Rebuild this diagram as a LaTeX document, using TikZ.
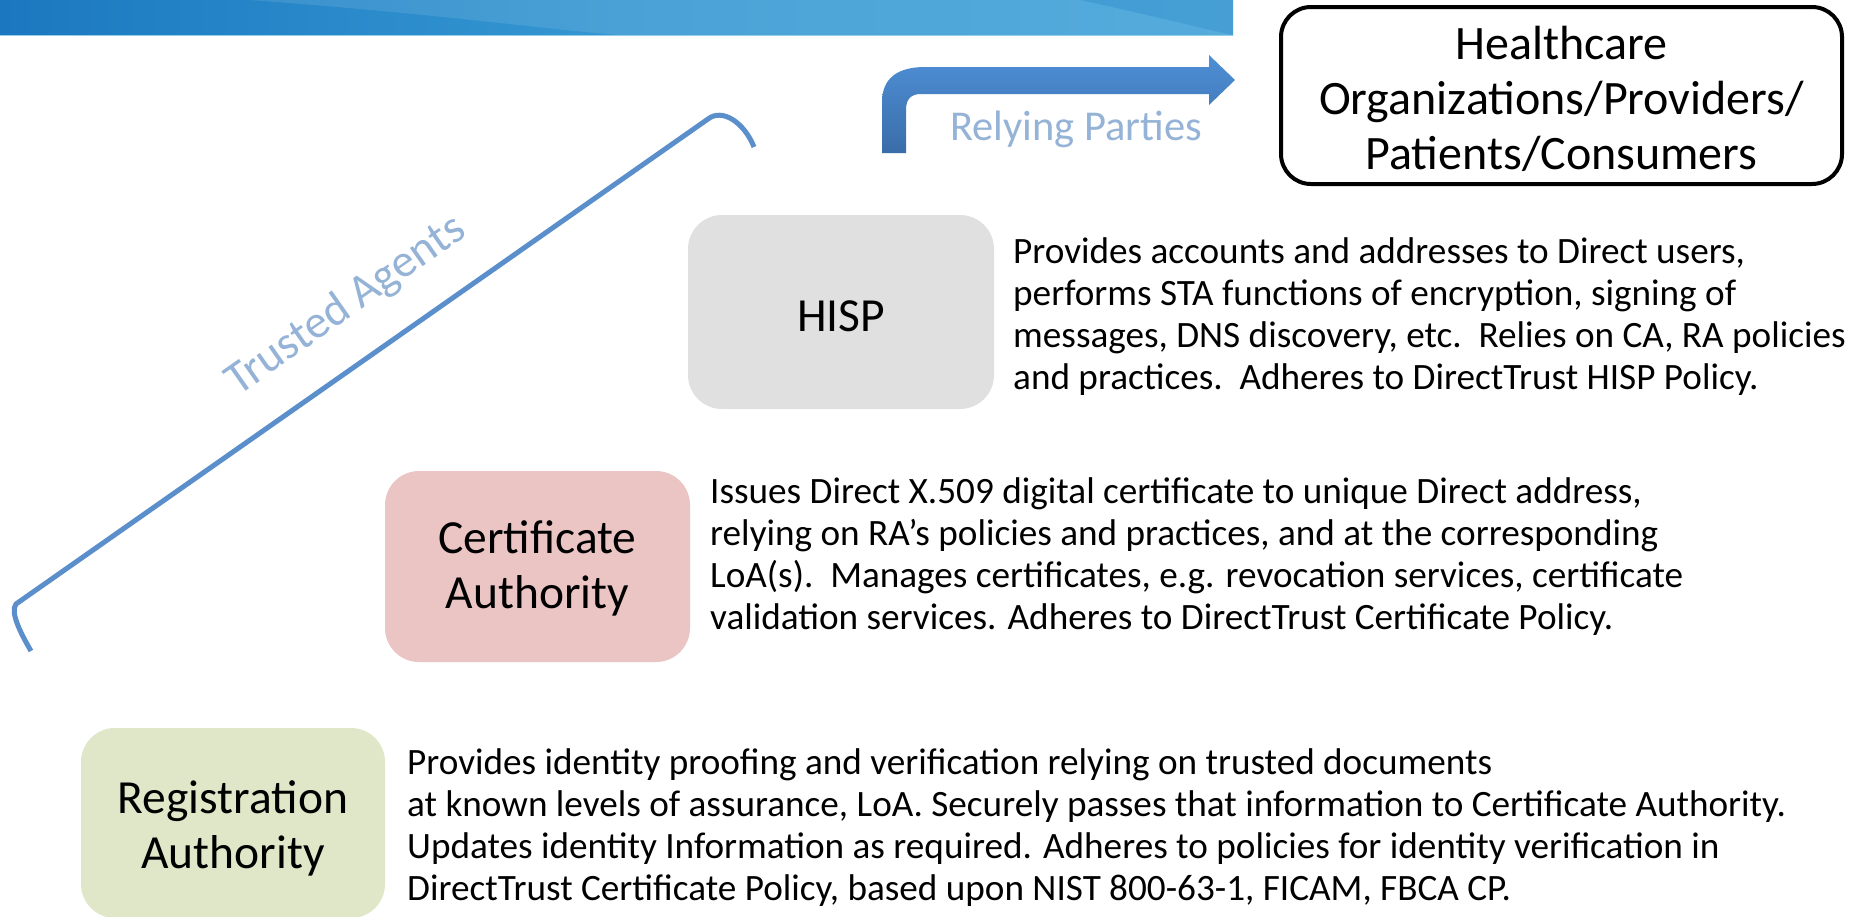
\documentclass[tikz,border=0pt]{standalone}
\usepackage{fontspec}
\setmainfont{Carlito}
\usetikzlibrary{shadings}
\definecolor{bannerL}{HTML}{1B78C0}
\definecolor{bannerM}{HTML}{3597D2}
\definecolor{bannerR}{HTML}{42A3D8}
\definecolor{arrowT}{HTML}{4E8FD6}
\definecolor{arrowB}{HTML}{3A6DA8}
\definecolor{lightblue}{HTML}{95B3D7}
\definecolor{bracketblue}{HTML}{5B8FCB}
\definecolor{hispgray}{HTML}{E0E0E0}
\definecolor{capink}{HTML}{EBC5C4}
\definecolor{ragreen}{HTML}{DFE7C8}
\tikzset{
  boxlabel/.style={inner sep=0pt, align=center, font=\fontsize{47.5}{55}\selectfont},
  desc/.style={inner sep=0pt, anchor=west, align=left, font=\fontsize{37.2}{42}\selectfont},
  faint/.style={text=lightblue, inner sep=0pt, font=\fontsize{42.5}{50}\selectfont}
}
\begin{document}
\begin{tikzpicture}[x=1pt, y=-1pt]
\useasboundingbox (0,0) rectangle (1871,916);
\fill[white] (0,0) rectangle (1871,916);
% banner
\shade[left color=bannerL, right color=bannerR, middle color=bannerM] (0,0) rectangle (1233,35);
\fill[white, opacity=0.10] (250,0) .. controls (450,15) and (550,30) .. (620,35) -- (1233,35) -- (1233,0) -- cycle;
\fill[bannerL, opacity=0.25] (1080,0) .. controls (1150,15) and (1200,28) .. (1233,35) -- (1233,0) -- cycle;
\draw[line width=1.5pt, color={rgb,255:red,150;green,205;blue,235}] (0,35.5) -- (1233,35.5);

% healthcare box
\node[draw=black, line width=4pt, rounded corners=30pt, minimum width=561pt, minimum height=177pt, inner sep=0pt] (hc) at (1561.5,95.5) {};
\node[boxlabel, font=\fontsize{48}{55}\selectfont] (hct) at (1561.5,99) {Healthcare\\Organizations/Providers/\\Patients/Consumers};

% bent arrow
\shade[top color=arrowT, bottom color=arrowB] (882,153) -- (882,102) .. controls (882,78) and (898,67) .. (925,67) -- (1209,67) -- (1209,55) -- (1235,80) -- (1209,105) -- (1209,94) -- (921,94) .. controls (911,94) and (906,99) .. (906,110) -- (906,153) -- cycle;
\coordinate (arrowtip) at (1235,80);
\node[faint, anchor=base] (rp) at (1076,140) {Relying Parties};

% bracket
\coordinate (bb) at (31,651);
\coordinate (bl) at (16,604);
\coordinate (bt) at (714,115);
\coordinate (br) at (754,147);
\draw[bracketblue, line width=5pt] (bb) .. controls (20,632) and (10,612) .. (bl) -- (708,119) .. controls (722,108) and (744,122) .. (br);
\node[faint, rotate=35, font=\fontsize{46.5}{50}\selectfont] (ta) at (346,306) {Trusted Agents};

% HISP
\node[fill=hispgray, rounded corners=34pt, minimum width=306pt, minimum height=194pt, inner sep=0pt] (hisp) at (841,312) {};
\node[boxlabel] (hispt) at (841,316) {HISP};
\node[desc] (hispd) at (1013,316.5) {Provides accounts and addresses to Direct users,\\performs STA functions of encryption, signing of\\messages, DNS discovery, etc.\ \ Relies on CA, RA policies\\and practices.\ \ Adheres to DirectTrust HISP Policy.};

% CA
\node[fill=capink, rounded corners=34pt, minimum width=305pt, minimum height=191pt, inner sep=0pt] (ca) at (537.5,566.5) {};
\node[boxlabel] (cat) at (537.5,568) {Certificate\\Authority};
\node[desc] (cad) at (710,557) {Issues Direct X.509 digital certificate to unique Direct address,\\relying on RA’s policies and practices, and at the corresponding\\LoA(s).\ \ Manages certificates, e.g. revocation services, certificate\\validation services. Adheres to DirectTrust Certificate Policy.};

% RA
\node[fill=ragreen, rounded corners=34pt, minimum width=304pt, minimum height=190pt, inner sep=0pt] (ra) at (233,823) {};
\node[boxlabel] (rat) at (233,828) {Registration\\Authority};
\node[desc] (rad) at (407,828) {Provides identity proofing and verification relying on trusted documents\\at known levels of assurance, LoA. Securely passes that information to Certificate Authority.\\Updates identity Information as required. Adheres to policies for identity verification in\\DirectTrust Certificate Policy, based upon NIST 800-63-1, FICAM, FBCA CP.};
\end{tikzpicture}
\end{document}
